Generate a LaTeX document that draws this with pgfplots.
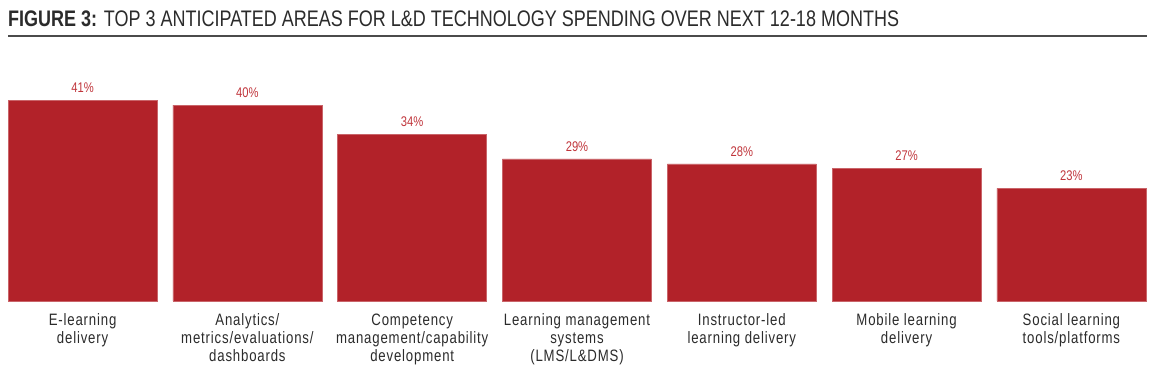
\documentclass[border=0pt]{standalone}
\usepackage{fontspec}
\setmainfont{Liberation Sans}[FakeStretch=0.8]
\newfontfamily\tickfont{Liberation Sans}[FakeStretch=0.8, LetterSpace=5]
\usepackage{pgfplots}
\pgfplotsset{compat=1.18}
\definecolor{barred}{HTML}{B22229}
\definecolor{labred}{HTML}{C0353B}
\definecolor{txt}{HTML}{2B2B2B}
\begin{document}
\begin{tikzpicture}[x=1pt,y=1pt]
\useasboundingbox (0,0) rectangle (1155,373);
\node[anchor=base west, inner sep=0pt, text=txt, font=\fontsize{22.5}{26}\selectfont] at (8,346) {\textbf{FIGURE 3:} TOP 3 ANTICIPATED AREAS FOR L\&D TECHNOLOGY SPENDING OVER NEXT 12-18 MONTHS};
\draw[line width=1.8pt, color=txt!85] (8,337) -- (1147,337);
\begin{axis}[
  at={(0.2pt,72pt)}, anchor=south west,
  scale only axis,
  width=1153.6pt, height=220.5pt,
  xmin=-0.5, xmax=6.5, ymin=0, ymax=45,
  axis line style={draw=none},
  major tick length=0pt,
  ytick=\empty,
  ybar, bar width=149pt,
  xtick=data,
  xticklabels={{E-learning\\delivery},{Analytics/\\metrics/evaluations/\\dashboards},{Competency\\management/capability\\development},{Learning management\\systems\\(LMS/L\&DMS)},{Instructor-led\\learning delivery},{Mobile learning\\delivery},{Social learning\\tools/platforms}},
  xticklabel style={align=center, text=txt, font=\tickfont\fontsize{16.5}{18}\selectfont, anchor=north, yshift=-9pt},
  clip=false,
  nodes near coords={\pgfmathprintnumber{\pgfplotspointmeta}\%},
  every node near coord/.append style={text=labred, font=\fontsize{14}{15}\selectfont, yshift=4pt},
  /pgf/number format/assume math mode=true,
]
\addplot[fill=barred, draw=barred!70!white, line width=0.6pt] coordinates {(0,41) (1,40) (2,34) (3,29) (4,28) (5,27) (6,23)};
\end{axis}
\end{tikzpicture}
\end{document}
